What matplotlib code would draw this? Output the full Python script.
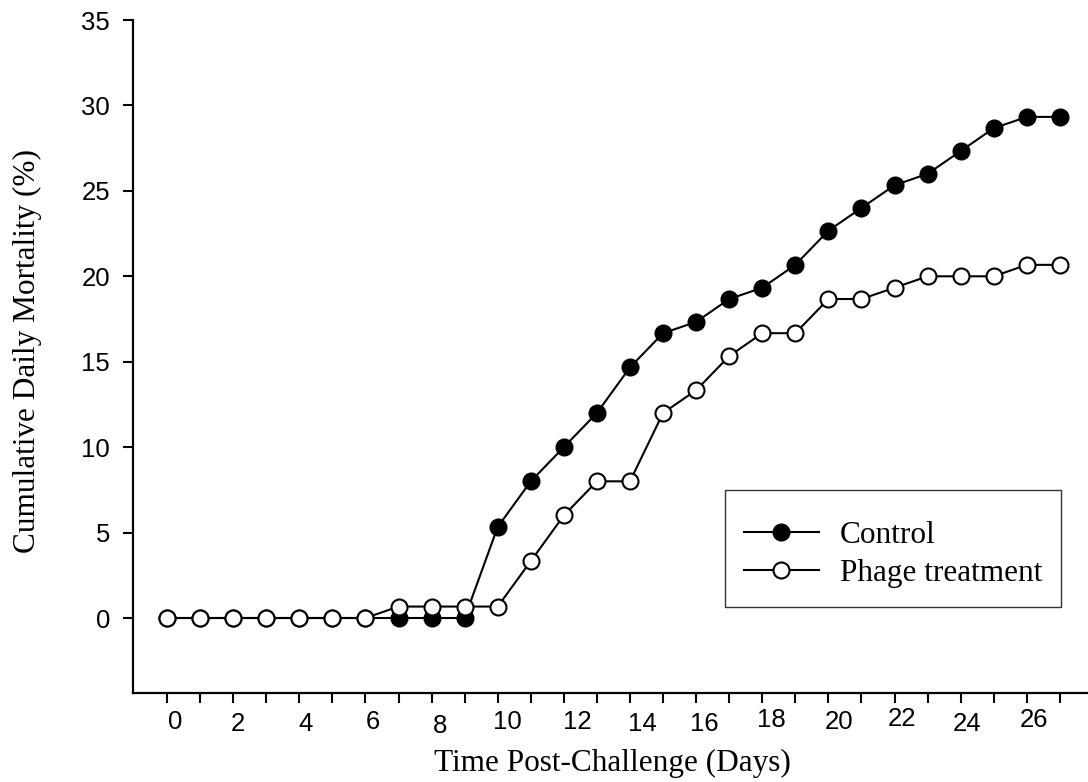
import matplotlib
matplotlib.use('Agg')
import matplotlib.pyplot as plt
import matplotlib.transforms as mtransforms
import numpy as np

# data (cumulative mortality, %)
days = list(range(0, 28))
control = [0, 0, 0, 0, 0, 0, 0, 0, 0, 0,
           5.33, 8.0, 10.0, 12.0, 14.67, 16.67, 17.33, 18.67, 19.33, 20.67,
           22.67, 24.0, 25.33, 26.0, 27.33, 28.67, 29.33, 29.33]
phage = [0, 0, 0, 0, 0, 0, 0, 0.67, 0.67, 0.67,
         0.67, 3.33, 6.0, 8.0, 8.0, 12.0, 13.33, 15.33, 16.67, 16.67,
         18.67, 18.67, 19.33, 20.0, 20.0, 20.0, 20.67, 20.67]
xtick_labels = ['0', '2', '4', '6', '8', '10', '12', '14', '16', '18',
                '20', '22', '24', '26']
yticks = [0, 5, 10, 15, 20, 25, 30, 35]

# the original has slightly staggered x labels (pixel nudges: right, down)
label_nudge = [(8, 0), (5, 2), (6, 2), (7, 0), (8, 4), (10, 0), (13, 0),
               (12, 2), (8, 2), (9, -2), (11, 0), (7, -3), (6, 2), (7, -2)]

fig = plt.figure(figsize=(10.88, 7.82), dpi=100)
ax = fig.add_axes([0.1222, 0.1138, 0.8778, 0.8606])

ax.plot(days, control, '-o', color='black', lw=1.5, ms=11.5,
        mfc='black', mec='black', mew=1.5, label='Control', zorder=3)
ax.plot(days, phage, '-o', color='black', lw=1.5, ms=11.5,
        mfc='white', mec='black', mew=1.5, label='Phage treatment', zorder=4)

ax.set_xlim(-1.03, 27.85)
ax.set_ylim(-4.39, 35)

for s in ['top', 'right']:
    ax.spines[s].set_visible(False)
for s in ['left', 'bottom']:
    ax.spines[s].set_linewidth(1.6)

ax.set_yticks(yticks)
ax.set_yticklabels([str(v) for v in yticks], fontfamily='Liberation Sans',
                   fontsize=18.5)
ax.tick_params(axis='y', direction='out', length=7.5, width=1.5, pad=9)

ax.set_xticks(days)
ax.set_xticklabels([])
ax.tick_params(axis='x', direction='out', length=7.5, width=1.5)

# x tick labels drawn as text so each can carry its little nudge
base = mtransforms.blended_transform_factory(ax.transData, fig.transFigure)
for lab, (dx, dy) in zip(xtick_labels, label_nudge):
    off = mtransforms.ScaledTranslation(dx / 100, -dy / 100, fig.dpi_scale_trans)
    ax.text(int(lab), (782 - 722) / 782, lab, transform=base + off,
            ha='center', va='center', fontfamily='Liberation Sans',
            fontsize=18.5, clip_on=False)

ax.set_xlabel('Time Post-Challenge (Days)', fontfamily='Liberation Serif',
              fontsize=22.5, va='center')
ax.xaxis.set_label_coords((612 - 133) / 955, -(763 - 693) / 673)
ax.set_ylabel('Cumulative Daily Mortality (%)', fontfamily='Liberation Serif',
              fontsize=22.5, va='center')
ax.yaxis.set_label_coords(-(133 - 28) / 955, (693 - 351) / 673)

# blank tiny title just to get the extra top padding of the original box
leg = ax.legend(loc='lower left', bbox_to_anchor=(0.62, 0.128),
                prop={'family': 'Liberation Serif', 'size': 22.5},
                title=' ', title_fontsize=2,
                frameon=True, fancybox=False, edgecolor='black',
                handlelength=2.4, handletextpad=0.68, labelspacing=0.28,
                borderpad=0.6, borderaxespad=0)
leg.get_frame().set_linewidth(1.0)

fig.savefig('out.png', dpi=100)
